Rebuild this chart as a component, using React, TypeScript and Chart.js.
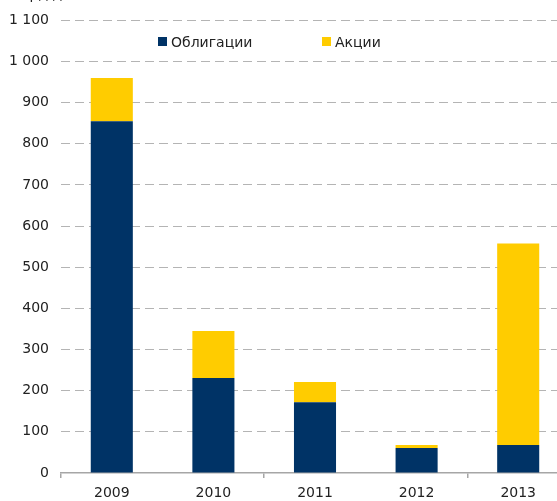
import React, { useEffect, useRef } from "react";
import { Chart, registerables } from "chart.js";

Chart.register(...registerables);

const categories = ["2009", "2010", "2011", "2012", "2013"];
const bonds = [855, 231, 172, 61, 68];
const stocks = [105, 114, 49, 7, 490];
const seriesNames = ["Облигации", "Акции"];
const yTicks = [0, 100, 200, 300, 400, 500, 600, 700, 800, 900, 1000, 1100];
const unitLabel = "млрд долл.";

const BLUE = "#003366";
const YELLOW = "#FFCC00";
const FONT = "DejaVu Sans";
const FS = 14;

function fmt(v: number): string {
  const s = String(v);
  return s.replace(/\B(?=(\d{3})+(?!\d))/g, "\u00a0");
}

export default function App() {
  const ref = useRef<HTMLCanvasElement | null>(null);

  useEffect(() => {
    if (!ref.current) return;
    const overlay = {
      id: "overlay",
      afterDraw(chart: any) {
        const ctx = chart.ctx;
        ctx.save();
        ctx.font = `${FS}px "${FONT}"`;
        ctx.textBaseline = "alphabetic";
        ctx.fillStyle = "#222";
        ctx.textAlign = "left";
        ctx.fillText(unitLabel, 10, -1);
        const items = [
          { name: seriesNames[0], color: BLUE, x: 158 },
          { name: seriesNames[1], color: YELLOW, x: 322 },
        ];
        items.forEach((it) => {
          ctx.fillStyle = it.color;
          ctx.fillRect(it.x, 37, 9, 9);
          ctx.fillStyle = "#222";
          ctx.fillText(it.name, it.x + 13, 46.5);
        });
        ctx.restore();
      },
    };

    const chart = new Chart(ref.current, {
      type: "bar",
      data: {
        labels: categories,
        datasets: [
          {
            label: seriesNames[0],
            data: bonds,
            backgroundColor: BLUE,
            categoryPercentage: 1,
            barPercentage: 0.414,
          },
          {
            label: seriesNames[1],
            data: stocks,
            backgroundColor: YELLOW,
            categoryPercentage: 1,
            barPercentage: 0.414,
          },
        ],
      },
      options: {
        responsive: false,
        animation: false,
        layout: { padding: { top: 20, right: 0, left: 0, bottom: 0 } },
        plugins: {
          legend: { display: false },
          tooltip: { enabled: false },
        },
        scales: {
          x: {
            stacked: true,
            border: { display: true, color: "#a6a6a6", width: 1.5 },
            grid: {
              offset: true,
              drawOnChartArea: false,
              drawTicks: true,
              tickLength: 5,
              color: (ctx: any) =>
                ctx.index % 2 === 0 ? "#a6a6a6" : "rgba(0,0,0,0)",
              lineWidth: 1.5,
            },
            ticks: {
              color: "#222",
              font: { family: FONT, size: FS },
              padding: 7,
              maxRotation: 0,
            },
            afterFit: (s: any) => {
              s.height = 28;
            },
          },
          y: {
            stacked: true,
            min: 0,
            max: 1100,
            afterBuildTicks: (s: any) => {
              s.ticks = yTicks.map((v) => ({ value: v }));
            },
            border: { display: false, dash: [9, 5] },
            grid: {
              drawTicks: false,
              color: (ctx: any) =>
                ctx.tick && ctx.tick.value === 0 ? "rgba(0,0,0,0)" : "#b4b4b4",
              lineWidth: 1,
            },
            ticks: {
              color: "#222",
              font: { family: FONT, size: FS },
              padding: 12,
              callback: (v: any) => fmt(Number(v)),
            },
            afterFit: (s: any) => {
              s.width = 61;
            },
          },
        },
      },
      plugins: [overlay],
    } as any);
    return () => chart.destroy();
  }, []);

  return (
    <div
      style={{
        position: "fixed",
        left: 0,
        top: 0,
        width: 557,
        height: 501,
        overflow: "hidden",
        background: "#fff",
      }}
    >
      <canvas ref={ref} width={569} height={501} style={{ display: "block" }} />
    </div>
  );
}
